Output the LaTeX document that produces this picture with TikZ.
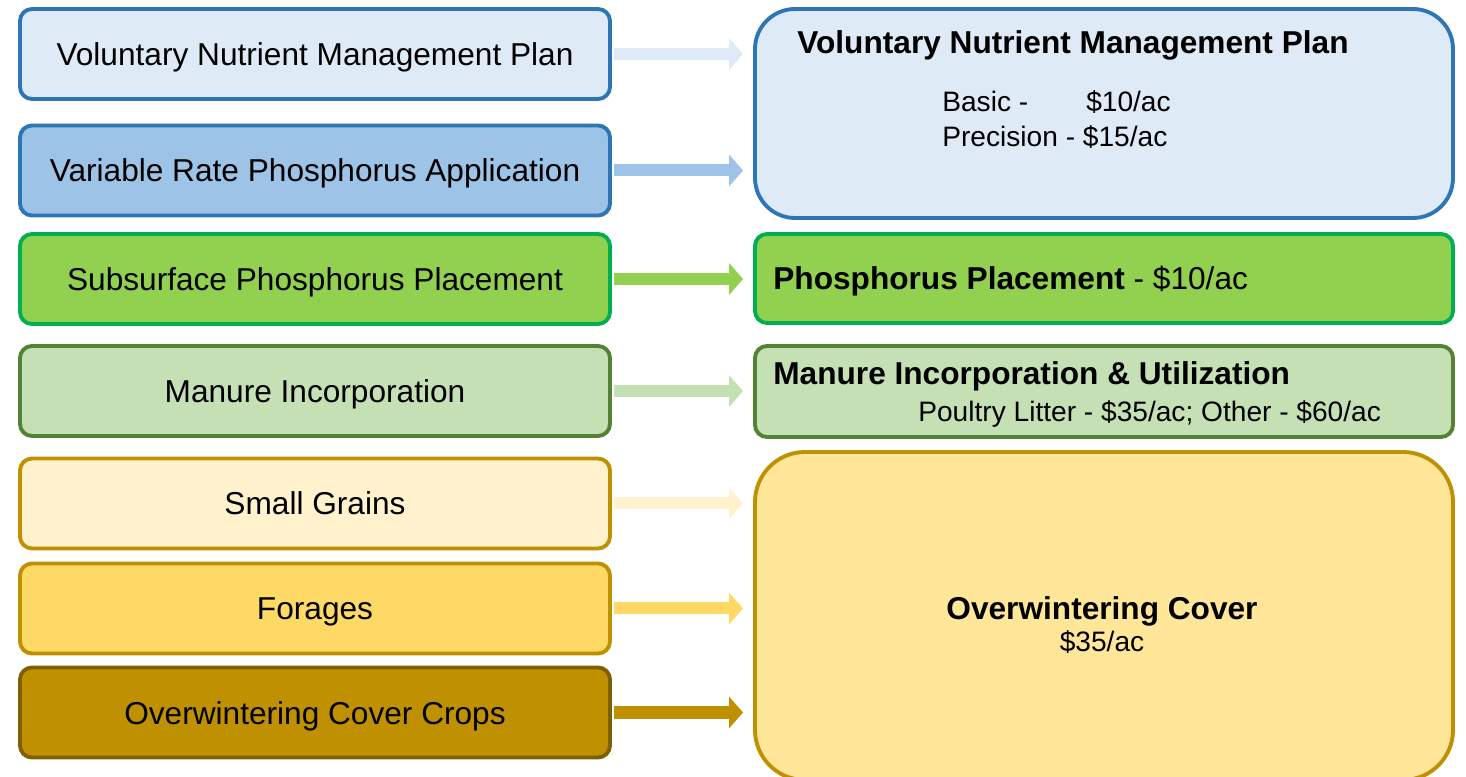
\documentclass[tikz,border=0pt]{standalone}
\usepackage{fontspec}
\setmainfont{Liberation Sans}
\usepackage{tikz}
\usetikzlibrary{arrows.meta, positioning}

\definecolor{blueLt}{HTML}{DEEBF7}
\definecolor{blueMd}{HTML}{9DC3E6}
\definecolor{blueDk}{HTML}{2E75B6}
\definecolor{greenBr}{HTML}{92D050}
\definecolor{greenEdge}{HTML}{00B050}
\definecolor{greenLt}{HTML}{C5E0B4}
\definecolor{greenDk}{HTML}{548235}
\definecolor{goldLt}{HTML}{FFF2CC}
\definecolor{goldMd}{HTML}{FFD966}
\definecolor{goldDk}{HTML}{BF9000}
\definecolor{goldEdge}{HTML}{7F6000}
\definecolor{goldCover}{HTML}{FFE699}

\begin{document}
\begin{tikzpicture}[
    % GLOBAL CFG
    font=\fontsize{18}{22}\selectfont,
    >={Triangle[length=0.28cm, width=0.62cm]},
    % Styles
    lbox/.style={% For the practice boxes on the left
        rectangle,
        rounded corners=0.24cm,
        draw,
        line width=2.2pt,
        minimum width=11.8cm,
        minimum height=1.8cm,
        text height=0.46cm,
        text depth=0cm,
        },
    rbox/.style={% For the payment boxes on the right
        rectangle,
        draw,
        line width=2.2pt,
        minimum width=13.96cm,
        },
    titletext/.style={% Bold headings in the right boxes
        font=\fontsize{18}{22}\selectfont\bfseries,
        inner sep=0pt,
        },
    smalltext/.style={% Rates under the headings
        font=\fontsize{16}{20}\selectfont,
        inner sep=0pt,
        },
    ArrowP/.style={% Thick block arrows
        line width=0.24cm,
        shorten <=1pt,
        shorten >=0.2cm,
        },
    ]

    \useasboundingbox (0,0) rectangle (29.32,-15.54);

    % Draw the practices named lbox#
    \node [lbox, fill=blueLt, draw=blueDk] (lbox1) at (6.3,-1.08) {Voluntary Nutrient Management Plan};
    \node [lbox, fill=blueMd, draw=blueDk] (lbox2) at (6.3,-3.41) {Variable Rate Phosphorus Application};
    \node [lbox, fill=greenBr, draw=greenEdge] (lbox3) at (6.3,-5.58) {Subsurface Phosphorus Placement};
    \node [lbox, fill=greenLt, draw=greenDk] (lbox4) at (6.3,-7.82) {Manure Incorporation};
    \node [lbox, fill=goldLt, draw=goldDk] (lbox5) at (6.3,-10.07) {Small Grains};
    \node [lbox, fill=goldMd, draw=goldDk] (lbox6) at (6.3,-12.17) {Forages};
    \node [lbox, fill=goldDk, draw=goldEdge] (lbox7) at (6.3,-14.25) {Overwintering Cover Crops};

    % Draw the payments named rbox#
    \node [rbox, rounded corners=0.8cm, minimum height=4.18cm, fill=blueLt, draw=blueDk] (rbox1) at (22.08,-2.27) {};
    \node [rbox, rounded corners=0.24cm, minimum height=1.78cm, fill=greenBr, draw=greenEdge] (rbox2) at (22.08,-5.57) {};
    \node [rbox, rounded corners=0.24cm, minimum height=1.82cm, fill=greenLt, draw=greenDk] (rbox3) at (22.08,-7.83) {};
    \node [rbox, rounded corners=1cm, minimum height=6.56cm, fill=goldCover, draw=goldDk] (rbox4) at (22.08,-12.32) {};

    % Texts of the payments
    \node [titletext, anchor=base west] (vnmp) at (15.94,-1.08) {Voluntary Nutrient Management Plan};
    \node [smalltext, anchor=base west, align=left] (rates) at (18.84,-2.94) {Basic -\hspace{1.16cm}\$10/ac\\Precision - \$15/ac}; % base is the last line
    \node [smalltext, anchor=base west, font=\fontsize{18}{22}\selectfont] (pp) at (15.46,-5.8) {\textbf{Phosphorus Placement} - \$10/ac};
    \node [titletext, anchor=base west] (miu) at (15.46,-7.7) {Manure Incorporation \& Utilization};
    \node [smalltext, anchor=base west] (poultry) at (18.36,-8.44) {Poultry Litter - \$35/ac; Other - \$60/ac};
    \node [titletext, anchor=base] (owc) at (22.04,-12.38) {Overwintering Cover};
    \node [smalltext, anchor=base] (owcrate) at (22.04,-13.04) {\$35/ac};

    % Arrows
    \draw [->, ArrowP, blueLt] (lbox1.east) -- (lbox1.east -| rbox1.west);
    \draw [->, ArrowP, blueMd] (lbox2.east) -- (lbox2.east -| rbox1.west);
    \draw [->, ArrowP, greenBr] (lbox3.east) -- (lbox3.east -| rbox2.west);
    \draw [->, ArrowP, greenLt] (lbox4.east) -- (lbox4.east -| rbox3.west);
    \draw [->, ArrowP, goldLt] (lbox5.east) -- (lbox5.east -| rbox4.west);
    \draw [->, ArrowP, goldMd] (lbox6.east) -- (lbox6.east -| rbox4.west);
    \draw [->, ArrowP, goldDk] (lbox7.east) -- (lbox7.east -| rbox4.west);

\end{tikzpicture}
\end{document}
